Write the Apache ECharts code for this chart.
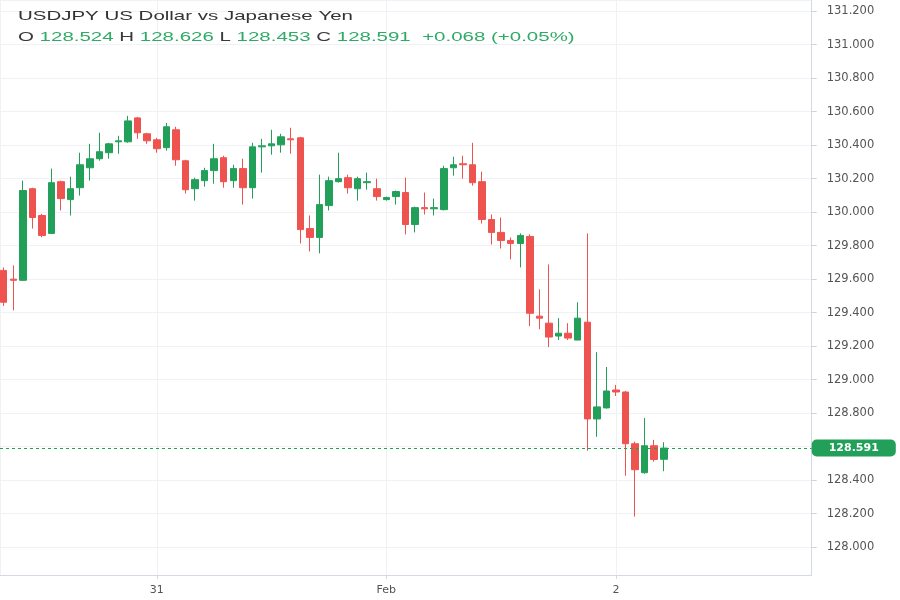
<!DOCTYPE html>
<html>
<head>
<meta charset="utf-8">
<script src="https://cdn.jsdelivr.net/npm/echarts@6/dist/echarts.min.js"></script>
<style>
  html, body { margin: 0; padding: 0; background: #ffffff; }
  #chart { width: 900px; height: 600px; }
</style>
</head>
<body>
<div id="chart"></div>
<script>
// ---- data (hourly candles, USDJPY) ----
const symbolName = 'USDJPY US Dollar vs Japanese Yen';
const startHour = 8; // first candle: 30 Jan 08:00 (hours counted from 30 Jan 00:00)
const openVals = [
  129.652, 129.600, 129.593, 130.140, 129.980, 129.873, 130.182, 130.075, 130.146, 130.265,
  130.319, 130.355, 130.420, 130.420, 130.563, 130.468, 130.432, 130.385, 130.492, 130.307,
  130.140, 130.188, 130.248, 130.325, 130.188, 130.260, 130.146, 130.390, 130.396, 130.402,
  130.438, 130.444, 129.902, 129.849, 130.039, 130.182, 130.206, 130.140, 130.176, 130.140,
  130.075, 130.093, 130.117, 129.926, 130.027, 130.020, 130.015, 130.265, 130.289, 130.283,
  130.182, 129.956, 129.879, 129.831, 129.813, 129.855, 129.379, 129.337, 129.260, 129.277,
  129.236, 129.343, 128.765, 128.831, 128.938, 128.926, 128.617, 128.444, 128.605, 128.524
];
const closeVals = [
  129.462, 129.593, 130.129, 129.968, 129.861, 130.176, 130.081, 130.140, 130.283, 130.319,
  130.361, 130.408, 130.426, 130.545, 130.474, 130.426, 130.379, 130.510, 130.313, 130.134,
  130.194, 130.248, 130.319, 130.182, 130.260, 130.146, 130.390, 130.396, 130.408, 130.450,
  130.432, 129.896, 129.849, 130.045, 130.188, 130.200, 130.146, 130.200, 130.182, 130.093,
  130.087, 130.123, 129.926, 130.027, 130.020, 130.027, 130.260, 130.283, 130.283, 130.176,
  129.956, 129.879, 129.831, 129.813, 129.861, 129.396, 129.367, 129.254, 129.277, 129.248,
  129.367, 128.765, 128.837, 128.932, 128.926, 128.617, 128.462, 128.605, 128.523, 128.591
];
const lowVals = [
  129.440, 129.414, 129.590, 129.902, 129.850, 129.873, 130.010, 129.980, 130.099, 130.188,
  130.307, 130.319, 130.349, 130.414, 130.438, 130.408, 130.355, 130.367, 130.277, 130.111,
  130.069, 130.152, 130.170, 130.146, 130.146, 130.045, 130.081, 130.236, 130.343, 130.355,
  130.349, 129.813, 129.765, 129.754, 130.010, 130.176, 130.111, 130.069, 130.134, 130.069,
  130.069, 130.045, 129.867, 129.879, 129.986, 129.980, 130.010, 130.218, 130.200, 130.158,
  129.932, 129.807, 129.783, 129.718, 129.670, 129.319, 129.301, 129.194, 129.236, 129.236,
  129.236, 128.575, 128.658, 128.826, 128.902, 128.426, 128.182, 128.438, 128.510, 128.453
];
const highVals = [
  129.670, 129.682, 130.188, 130.146, 129.990, 130.260, 130.188, 130.212, 130.355, 130.408,
  130.474, 130.414, 130.456, 130.575, 130.569, 130.474, 130.444, 130.533, 130.510, 130.313,
  130.206, 130.265, 130.408, 130.337, 130.283, 130.319, 130.414, 130.438, 130.492, 130.468,
  130.504, 130.450, 129.980, 130.224, 130.212, 130.355, 130.224, 130.212, 130.236, 130.200,
  130.093, 130.129, 130.206, 130.033, 130.117, 130.081, 130.277, 130.331, 130.337, 130.414,
  130.242, 129.986, 129.968, 129.849, 129.873, 129.867, 129.539, 129.688, 129.367, 129.337,
  129.462, 129.873, 129.164, 129.075, 128.968, 128.932, 128.629, 128.771, 128.640, 128.626
];
const dayTickHours = [24, 48, 72];
const dayTickLabels = ['31', 'Feb', '2'];

// ---- styles ----
const UP = '#22a05a';
const DOWN = '#ef5350';
const TEXT_GREEN = '#2eaa66';
const GRID = '#eff1f4';
const AXIS = '#d3dae3';

const candles = openVals.map((o, i) => [startHour + i, o, closeVals[i], lowVals[i], highVals[i]]);
const n = closeVals.length;
const lastO = openVals[n - 1], lastH = highVals[n - 1], lastL = lowVals[n - 1], lastC = closeVals[n - 1];
const chg = lastC - closeVals[n - 2];
const chgPct = chg / closeVals[n - 2] * 100;
const sign = v => (v >= 0 ? '+' : '-');
const infoText =
  '{k|O} {v|' + lastO.toFixed(3) + '} {k|H} {v|' + lastH.toFixed(3) + '} {k|L} {v|' + lastL.toFixed(3) +
  '} {k|C} {v|' + lastC.toFixed(3) + '}  {v|' + sign(chg) + Math.abs(chg).toFixed(3) +
  ' (' + sign(chgPct) + Math.abs(chgPct).toFixed(2) + '%)}';

const chart = echarts.init(document.getElementById('chart'));
chart.setOption({
  backgroundColor: '#ffffff',
  animation: false,
  grid: { left: -2, right: 88.3, top: -2, bottom: 25, containLabel: false },
  graphic: [
    {
      type: 'text', x: 18, y: 16, scaleX: 1.575, silent: true, z: 100,
      style: {
        text: symbolName, font: '13px "Liberation Sans", Arial, sans-serif',
        fill: '#333333', verticalAlign: 'middle'
      }
    },
    {
      type: 'text', x: 18, y: 37, scaleX: 1.575, silent: true, z: 100,
      style: {
        text: infoText, font: '13px "Liberation Sans", Arial, sans-serif',
        verticalAlign: 'middle', fill: '#333333',
        rich: {
          k: { fill: '#3a3a3a', font: '13px "Liberation Sans", Arial, sans-serif' },
          v: { fill: TEXT_GREEN, font: '13px "Liberation Sans", Arial, sans-serif' }
        }
      }
    }
  ],
  xAxis: {
    type: 'value',
    min: 7.614, max: 92.46,
    splitNumber: 4, minInterval: 24, maxInterval: 24,
    axisLine: { show: true, lineStyle: { color: AXIS, width: 1 } },
    axisTick: { show: true, length: 4, lineStyle: { color: AXIS } },
    axisLabel: {
      showMinLabel: false, showMaxLabel: false, margin: 10,
      color: '#555555', fontSize: 11, fontFamily: 'DejaVu Sans',
      formatter: v => {
        const k = dayTickHours.indexOf(Math.round(v));
        return k >= 0 ? dayTickLabels[k] : '';
      }
    },
    splitLine: { show: true, lineStyle: { color: GRID, width: 1 } }
  },
  yAxis: {
    type: 'value', position: 'right', scale: true,
    min: 127.833, max: 131.267,
    splitNumber: 17, minInterval: 0.2, maxInterval: 0.2,
    axisLine: { show: true, lineStyle: { color: AXIS, width: 1 } },
    axisTick: { show: true, length: 5, lineStyle: { color: '#cfd4db' } },
    axisLabel: {
      showMinLabel: false, showMaxLabel: false, margin: 15,
      color: '#555555', fontSize: 11.5, fontFamily: 'DejaVu Sans',
      formatter: v => v.toFixed(3)
    },
    splitLine: { show: true, lineStyle: { color: GRID, width: 1 } }
  },
  series: [{
    type: 'candlestick',
    name: 'USDJPY',
    data: candles,
    encode: { x: 0, y: [1, 2, 3, 4] },
    barWidth: 7,
    itemStyle: {
      color: UP, color0: DOWN, borderColor: UP, borderColor0: DOWN, borderWidth: 1
    },
    markLine: {
      silent: true,
      symbol: 'none',
      animation: false,
      precision: 3,
      lineStyle: { color: UP, type: [3, 3], width: 1 },
      label: {
        show: true, position: 'end', distance: 0,
        formatter: () => lastC.toFixed(3),
        backgroundColor: UP, borderRadius: 5, padding: [3, 17, 3, 17],
        color: '#ffffff', fontWeight: 'bold', fontSize: 11, fontFamily: 'DejaVu Sans'
      },
      data: [{ yAxis: lastC }]
    }
  }]
});
</script>
</body>
</html>
